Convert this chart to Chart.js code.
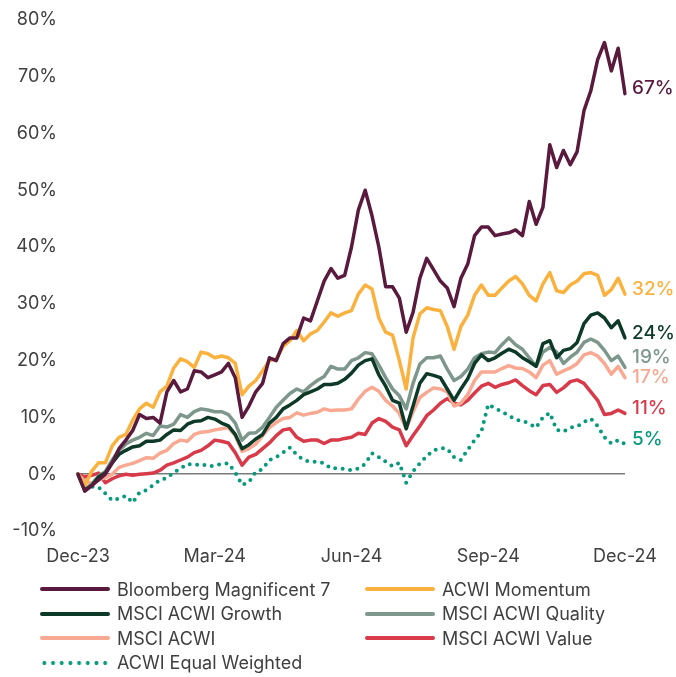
<!DOCTYPE html>
<html>
<head>
<meta charset="utf-8">
<script src="https://cdn.jsdelivr.net/npm/chart.js@4.4.0/dist/chart.umd.min.js"></script>
<style>
  body { margin: 0; background: #fff; width: 676px; height: 677px; overflow: hidden; font-family: Inter, sans-serif; }
  #wrap { width: 676px; height: 592px; margin-top: -12px; }
  #legend { display: grid; grid-template-columns: 325px 300px; margin-left: 40px; margin-top: -3px; }
  .item { display: flex; align-items: center; height: 24.5px; font-size: 18px; color: #404040; white-space: nowrap; }
  .swatch { width: 70px; height: 4px; border-radius: 2px; margin-right: 7px; flex: none; }
</style>
</head>
<body>
<div id="wrap"><canvas id="chart" width="676" height="592"></canvas></div>
<div id="legend"></div>
<script>
  // --- Data (cumulative return, %) ---
  const tickLabels = ['Dec-23', 'Mar-24', 'Jun-24', 'Sep-24', 'Dec-24'];
  const pointsPerTick = 20;

  const mag7 = [0, -3, -2, -1, 0, 2, 4.5, 6, 7.7, 10.5,
    9.8, 10, 9, 14.5, 16.5, 14.5, 15, 18.2, 18, 17,
    17.5, 18, 19.5, 17, 10, 12, 14.5, 16, 20.5, 20,
    23, 24, 24, 27.5, 27, 30.5, 34, 36.2, 34.5, 35,
    40, 46.5, 50, 45.5, 40, 33, 33, 31, 25, 28.5,
    34.5, 38, 36, 34, 32.8, 29.5, 34.5, 37, 42, 43.5,
    43.5, 42, 42.3, 42.5, 43, 42, 48, 44, 47, 58,
    54, 57, 54.5, 56.8, 64, 67.5, 73, 76, 71, 75,
    67];
  const momentum = [0, -2, 0.5, 2, 2, 5, 6.5, 7, 9.5, 11.5,
    12.5, 11.8, 14.5, 15.5, 18.7, 20.3, 19.8, 18.8, 21.5, 21.2,
    20.5, 20.8, 20.5, 19.5, 14, 15.5, 16.5, 18.2, 20, 20.3,
    22.5, 23.5, 25.3, 23.5, 24.7, 25.3, 26.8, 28.4, 27.8, 28.4,
    28.8, 31.7, 33.3, 32.6, 27.5, 25, 24.5, 20, 15, 24,
    28.2, 29.3, 29, 28.8, 26, 22, 26, 28, 31.5, 33.3,
    31.5, 31.5, 32.8, 34, 34.8, 33.5, 31.5, 30.5, 33.5, 35.5,
    32.3, 32, 33.3, 34, 35.3, 35.5, 35, 31.5, 32.5, 34.5,
    31.7];
  const growth = [0, -2.8, -2, -0.5, 0.2, 2, 3.5, 4.2, 4.8, 5,
    5.8, 5.8, 6, 7, 7.8, 7.7, 8.8, 9.3, 9.4, 10,
    9.7, 9, 8.5, 7, 4.5, 5.2, 6.2, 7, 9, 10,
    11.5, 12.2, 13, 14, 14.5, 15, 15.8, 15.8, 16, 16.7,
    17.8, 19.2, 20, 20.3, 17.5, 15.5, 13, 12.5, 8, 12,
    16, 17.7, 17.4, 17, 15, 13, 15, 16.8, 19.5, 21,
    20, 20.5, 21.3, 22, 21.5, 20.5, 19.8, 19, 23, 23.5,
    20.5, 21.8, 22.1, 23.2, 26.5, 28, 28.4, 27.5, 25.8, 27,
    24];
  const quality = [0, -2.5, -1.8, -0.3, 0.5, 2.5, 4.2, 5.3, 6, 6.5,
    7.2, 6.8, 8.5, 8.3, 8.8, 10.5, 10, 11, 11.5, 11.3,
    11, 11, 10.5, 9, 6, 7.2, 7.3, 8.3, 10, 11.8,
    13, 14.2, 15, 14.5, 15.6, 16.5, 17.2, 19, 18.5, 18.5,
    20, 20.5, 21.4, 21.2, 19.2, 17, 15, 13.8, 11.5, 16,
    19.4, 20.5, 20.5, 20.8, 18.5, 16.5, 17.2, 18.5, 20.5, 21.2,
    21.5, 21.4, 22.8, 24, 22.8, 22, 20.5, 19, 21.5, 22.3,
    21.5, 19.5, 20.6, 21.5, 23.2, 23.8, 23.2, 21.8, 20, 20.8,
    18.8];
  const acwi = [0, -1.2, -1.6, -1, -0.6, 0, 1.2, 1.6, 1.9, 2.4,
    2.9, 2.8, 3.7, 4.2, 5.4, 6, 5.8, 7, 7.4, 7.5,
    7.8, 8, 8.2, 6.8, 4, 4.5, 5.3, 6.8, 8.2, 9.1,
    9.8, 10, 10.8, 10.4, 10.7, 10.9, 11.5, 11.2, 11.3, 11.3,
    11.5, 13.2, 14.6, 15.3, 14.6, 13, 12, 10.7, 8, 11,
    13.5, 14.4, 15.2, 15, 14.5, 12, 12.5, 14, 16.5, 18,
    18, 18, 18.6, 19.1, 18.7, 18.6, 18, 17, 19.2, 20,
    17.6, 18.2, 18.7, 19.5, 21, 21.4, 20.8, 19.5, 17.6, 19,
    17];
  const value = [0, -0.5, -0.2, 0.2, -1.5, -0.8, -0.3, 0, -0.2, 0,
    0.1, 0.2, 0.7, 1.6, 2, 2.5, 3, 3.8, 4.2, 5,
    6, 5.8, 5.5, 3.8, 1.6, 3, 3.5, 4.5, 5.5, 6.8,
    7.8, 8, 6.5, 5.8, 6, 6, 5.4, 6, 6, 6.3,
    6.5, 7.2, 7, 9, 9.8, 9.3, 8.3, 7.8, 5, 6.8,
    8.5, 10.3, 11.3, 12.5, 13.3, 12.5, 12.2, 13, 14.3, 15.5,
    16, 15.3, 15.8, 16.1, 16.6, 15.6, 14.7, 14, 15.6, 15.8,
    14.4, 15.2, 16.3, 16.6, 16, 14.5, 13, 10.5, 10.7, 11.3,
    10.7];
  const equalWeighted = [0, -2.3, -2.2, -2.3, -3.4, -4.6, -4.3, -3.8, -5, -3.2,
    -2.8, -1.9, -1, -0.7, 0.3, 1, 1.8, 1.6, 1.8, 1.4,
    1.5, 1.8, 1.9, 0.3, -1.9, -1.4, 0.4, 0.9, 2.5, 3,
    3.8, 4.7, 3.4, 2.5, 2.2, 2.2, 1.9, 1, 1.1, 0.9,
    0.7, 1, 1.8, 3.7, 3, 2.2, 1.4, 2, -1.5, 0.5,
    1.9, 3.2, 4.2, 4.6, 4.5, 3, 2.5, 4.3, 6, 7.5,
    12.3, 11.6, 11, 10.3, 9.6, 9.4, 8.9, 8.2, 10, 10.8,
    7.8, 7.5, 8.2, 8.4, 9.2, 9.8, 8.5, 6.5, 5.4, 6,
    5.3];

  // --- Series setup ---
  const series = [
    { name: 'Bloomberg Magnificent 7', data: mag7, color: '#5a1a3d' },
    { name: 'ACWI Momentum', data: momentum, color: '#fbb13d' },
    { name: 'MSCI ACWI Growth', data: growth, color: '#0d3a28' },
    { name: 'MSCI ACWI Quality', data: quality, color: '#7d978c' },
    { name: 'MSCI ACWI', data: acwi, color: '#f9a891' },
    { name: 'MSCI ACWI Value', data: value, color: '#d83a4a' },
    { name: 'ACWI Equal Weighted', data: equalWeighted, color: '#089a7c', dotted: true }
  ];

  const labels = mag7.map((_, i) => i % pointsPerTick === 0 ? tickLabels[i / pointsPerTick] : '');

  const datasets = series.map(s => ({
    label: s.name,
    data: s.data,
    borderColor: s.color,
    borderWidth: s.dotted ? 4 : 3.5,
    borderDash: s.dotted ? [0, 7.5] : [],
    borderCapStyle: 'round',
    borderJoinStyle: 'round',
    pointRadius: 0,
    tension: 0,
    fill: false
  }));

  /**
   * Writes the final value at the right end of each line, nudged apart so they don't overlap.
   */
  const endLabels = {
    id: 'endLabels',
    afterDatasetsDraw(chart) {
      const { ctx, chartArea, scales: { y } } = chart;
      const items = series.map(s => {
        const last = s.data[s.data.length - 1];
        return { text: Math.round(last) + '%', color: s.color, y: y.getPixelForValue(last) - 5 };
      }).sort((a, b) => a.y - b.y);

      // push overlapping labels apart
      const gap = 20;
      for (let k = 0; k < 5; k++) {
        for (let i = 1; i < items.length; i++) {
          const d = items[i].y - items[i - 1].y;
          if (d < gap) {
            const shift = (gap - d) / 2;
            items[i - 1].y -= shift;
            items[i].y += shift;
          }
        }
      }

      ctx.save();
      ctx.font = '500 19px Inter, sans-serif';
      ctx.textBaseline = 'middle';
      ctx.textAlign = 'left';
      items.forEach(it => {
        ctx.fillStyle = it.color;
        ctx.fillText(it.text, chartArea.right + 7, it.y);
      });
      ctx.restore();
    }
  };

  const tickFont = { family: 'Inter, sans-serif', size: 18 };

  new Chart(document.getElementById('chart'), {
    type: 'line',
    data: { labels, datasets },
    options: {
      responsive: false,
      animation: false,
      devicePixelRatio: 1,
      layout: { padding: { top: 7, right: 51, left: 0, bottom: 0 } },
      plugins: { legend: { display: false }, tooltip: { enabled: false } },
      scales: {
        x: {
          grid: { display: false, drawTicks: false },
          border: { display: false },
          ticks: { autoSkip: false, maxRotation: 0, padding: 15, color: '#404040', font: tickFont },
          afterFit: s => { s.height = 49; }
        },
        y: {
          min: -10,
          max: 80,
          grid: {
            drawTicks: false,
            color: c => c.tick && c.tick.value === 0 ? '#7a7a7a' : 'rgba(0,0,0,0)',
            lineWidth: 1.5
          },
          border: { display: false },
          ticks: { stepSize: 10, padding: 21, color: '#404040', font: tickFont, callback: v => v + '%' },
          afterFit: s => { s.width = 78; }
        }
      }
    },
    plugins: [endLabels]
  });

  // --- Legend (two columns, as in the original) ---
  const legend = document.getElementById('legend');
  series.forEach(s => {
    const item = document.createElement('div');
    item.className = 'item';
    const sw = document.createElement('span');
    sw.className = 'swatch';
    if (s.dotted) {
      sw.style.background = `radial-gradient(circle, ${s.color} 1.7px, transparent 2.2px) 0 0 / 8.7px 4px repeat-x`;
    } else {
      sw.style.background = s.color;
    }
    item.appendChild(sw);
    item.appendChild(document.createTextNode(s.name));
    legend.appendChild(item);
  });
</script>
</body>
</html>
